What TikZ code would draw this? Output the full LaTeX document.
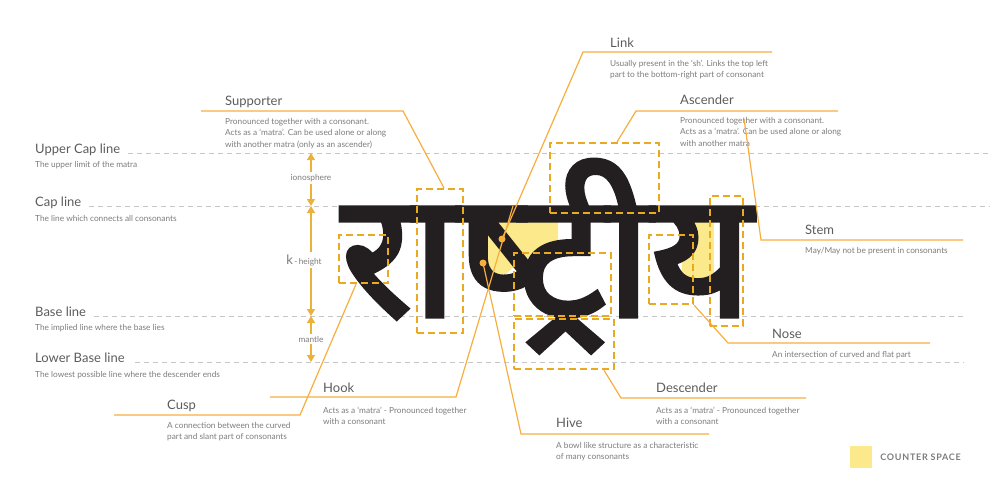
\documentclass[tikz,border=0pt]{standalone}
\usepackage{fontspec}
\setmainfont{Lato}
\newfontfamily\devfont[Script=Devanagari]{Noto Sans}
\usepackage{xcolor}
\usetikzlibrary{arrows.meta, positioning, calc, backgrounds}

\definecolor{inkgray}{HTML}{5C5C5C}
\definecolor{dscgray}{HTML}{7C7C7C}
\definecolor{guidegray}{HTML}{C6C6C6}
\definecolor{calloutor}{HTML}{F7AE3F}
\definecolor{boxor}{HTML}{E9AA22}
\definecolor{arrowor}{HTML}{EBB23A}
\definecolor{counteryl}{HTML}{FCE98B}
\definecolor{glyphblk}{HTML}{231F20}

% heavier strokes for the big word (fill + stroke text mode)
\newcommand{\heavy}[1]{\special{pdf:literal 2 Tr 5 w}#1\special{pdf:literal 0 Tr 1 w}}

\begin{document}
\begin{tikzpicture}[x=1pt, y=-1pt,
    % ── Text styles (dsc sits on the baseline of its LAST line) ───────
    ttl/.style={anchor=base west, inner sep=0pt,
        font=\fontsize{13}{15}\selectfont, text=inkgray},
    dsc/.style={anchor=base west, inner sep=0pt, align=left,
        font=\fontsize{8.3}{11.6}\selectfont, text=dscgray},
    % ── Guide lines: light grey, dashed ──────────────────────────────
    guide/.style={draw=guidegray, line width=0.8pt,
        dash pattern=on 5pt off 4pt},
    % ── Callout leader lines ─────────────────────────────────────────
    callout/.style={draw=calloutor, line width=1.2pt},
    dot/.style={circle, fill=calloutor, inner sep=0pt, minimum size=7pt},
    % ── Dashed part boxes ────────────────────────────────────────────
    dbox/.style={draw=boxor, line width=2.2pt, dash pattern=on 7pt off 4pt,
        inner sep=0pt, anchor=north west},
    % ── Height arrows ────────────────────────────────────────────────
    vdim/.style={draw=arrowor, line width=1.3pt,
        {Triangle[width=8pt,length=7pt]}-{Triangle[width=8pt,length=7pt]}},
    vlbl/.style={fill=white, inner sep=2pt, text=dscgray,
        font=\fontsize{8.3}{9}\selectfont}
]
\useasboundingbox (0,0) rectangle (1000,493);

% ══════════════════════════════════════════════════════════════════════
% GUIDE LINES AND HEIGHTS
% ══════════════════════════════════════════════════════════════════════

    \node[ttl] (ucapttl) at (35,153) {Upper Cap line};
    \node[dsc] (ucapdsc) at (35,167) {The upper limit of the matra};
    \node[ttl] (capttl)  at (35,206) {Cap line};
    \node[dsc] (capdsc)  at (35,221) {The line which connects all consonants};
    \node[ttl] (basettl) at (35,316) {Base line};
    \node[dsc] (basedsc) at (35,330) {The implied line where the base lies};
    \node[ttl] (lbasettl) at (35,362) {Lower Base line};
    \node[dsc] (lbasedsc) at (35,377) {The lowest possible line where the descender ends};

    \coordinate (gfar)  at (990,0);
    \coordinate (gnear) at (964,0);

    \draw[guide] ([xshift=8pt]ucapttl.base east) -- (ucapttl.base -| gfar);
    \draw[guide] ([xshift=8pt]capttl.base east) -- (capttl.base -| gfar);
    \draw[guide] ([xshift=8pt]basettl.base east) -- (basettl.base -| gnear);
    \draw[guide] ([xshift=10pt]lbasettl.base east) -- (lbasettl.base -| gnear);

    \coordinate (h1) at (311,153);
    \coordinate (h2) at (311,206);
    \coordinate (h3) at (311,316);
    \coordinate (h4) at (311,362);

    \draw[vdim] (h1) -- (h2);
    \draw[vdim] (h2) -- (h3);
    \draw[vdim] (h3) -- (h4);

    \node[vlbl] (iono) at (311,178) {ionosphere};
    \node[vlbl] (kht) at (304,260)
        {{\fontsize{13}{13}\selectfont k}\,-\,height};
    \node[vlbl] (mant) at (311,339) {mantle};

% ══════════════════════════════════════════════════════════════════════
% THE WORD
% ══════════════════════════════════════════════════════════════════════

    % counter spaces sit under the glyphs
    \fill[counteryl] (480,222) -- (558,222) -- (558,246) -- (522,260)
        -- (506,274) -- (480,274) -- cycle;
    \fill[counteryl] (682,222) rectangle (714,284);

    \node[anchor=base west, inner sep=0pt, text=glyphblk,
          font=\devfont\bfseries\fontsize{174}{174}\selectfont]
        (word) at (341,316) {\heavy{राष्^^^^200dट्रीय}};

% ══════════════════════════════════════════════════════════════════════
% PART BOXES
% ══════════════════════════════════════════════════════════════════════

    \node[dbox, minimum width=49pt,  minimum height=48pt]  (cuspbox) at (338,234) {};
    \node[dbox, minimum width=46pt,  minimum height=144pt] (suppbox) at (416,188) {};
    \node[dbox, minimum width=109pt, minimum height=70pt]  (ascbox)  at (549,142) {};
    \node[dbox, minimum width=97pt,  minimum height=63pt]  (hookbox) at (513,252) {};
    \node[dbox, minimum width=100pt, minimum height=50pt]  (descbox) at (513,318) {};
    \node[dbox, minimum width=44pt,  minimum height=69pt]  (nosebox) at (648,234) {};
    \node[dbox, minimum width=33pt,  minimum height=130pt] (stembox) at (709,195) {};

    \node[dot] (linkdot) at (502,239) {};
    \node[dot] (hivedot) at (483,263) {};

% ══════════════════════════════════════════════════════════════════════
% CALLOUTS
% ══════════════════════════════════════════════════════════════════════

    % ── Supporter ──
    \node[ttl] (suppttl) at (225,105) {Supporter};
    \node[dsc] (suppdsc) at (225,147.2)
        {Pronounced together with a consonant.\\
         Acts as a ‘matra’. Can be used alone or along\\
         with another matra (only as an ascender)};
    \coordinate (suppa) at (201,111);
    \coordinate (suppb) at (403,111);
    \draw[callout] (suppa) -- (suppb) -- ([xshift=28pt]suppbox.north west);

    % ── Link ──
    \node[ttl] (linkttl) at (610,47) {Link};
    \node[dsc] (linkdsc) at (610,77.6)
        {Usually present in the ‘sh’. Links the top left\\
         part to the bottom-right part of consonant};
    \coordinate (linka) at (583,52);
    \coordinate (linkb) at (772,52);
    \draw[callout] (linkdot.center) -- (linka) -- (linkb);

    % ── Ascender ──
    \node[ttl] (ascttl) at (680,104) {Ascender};
    \node[dsc] (ascdsc) at (680,146.2)
        {Pronounced together with a consonant.\\
         Acts as a ‘matra’. Can be used alone or along\\
         with another matra};
    \coordinate (asca) at (636,111);
    \coordinate (ascb) at (838,111);
    \draw[callout] ([xshift=68pt]ascbox.north west) -- (asca) -- (ascb);

    % ── Stem ──
    \node[ttl] (stemttl) at (805,234) {Stem};
    \node[dsc] (stemdsc) at (805,253) {May/May not be present in consonants};
    \coordinate (stema) at (761,240);
    \coordinate (stemb) at (963,240);
    \draw[callout] ([yshift=75pt]stembox.north east) -- (stema) -- (stemb);

    % ── Nose ──
    \node[ttl] (nosettl) at (772,338) {Nose};
    \node[dsc] (nosedsc) at (772,357) {An intersection of curved and flat part};
    \coordinate (nosea) at (728,343);
    \coordinate (noseb) at (930,343);
    \draw[callout] (nosebox.south east) -- (nosea) -- (noseb);

    % ── Descender ──
    \node[ttl] (descttl) at (656,392) {Descender};
    \node[dsc] (descdsc) at (656,424.6)
        {Acts as a ‘matra’ - Pronounced together\\with a consonant};
    \coordinate (desca) at (621,398);
    \coordinate (descb) at (806,398);
    \draw[callout] ([xshift=91pt]descbox.south west) -- (desca) -- (descb);

    % ── Hive ──
    \node[ttl] (hivettl) at (556,427) {Hive};
    \node[dsc] (hivedsc) at (556,459.6)
        {A bowl like structure as a characteristic\\of many consonants};
    \coordinate (hivea) at (521,434);
    \coordinate (hiveb) at (709,434);
    \draw[callout] (hivedot.center) -- (hivea) -- (hiveb);

    % ── Hook ──
    \node[ttl] (hookttl) at (323,392) {Hook};
    \node[dsc] (hookdsc) at (323,424.6)
        {Acts as a ‘matra’ - Pronounced together\\with a consonant};
    \coordinate (hooka) at (456,397);
    \coordinate (hookb) at (270,397);
    \draw[callout] ([yshift=46pt]hookbox.north west) -- (hooka) -- (hookb);

    % ── Cusp ──
    \node[ttl] (cuspttl) at (167,409) {Cusp};
    \node[dsc] (cuspdsc) at (167,439.6)
        {A connection between the curved\\part and slant part of consonants};
    \coordinate (cuspa) at (300,415);
    \coordinate (cuspb) at (114,415);
    \draw[callout] ([xshift=18pt]cuspbox.south west) -- (cuspa) -- (cuspb);

% ══════════════════════════════════════════════════════════════════════
% LEGEND
% ══════════════════════════════════════════════════════════════════════

    \node[fill=counteryl, minimum size=22pt, inner sep=0pt] (legsq) at (861,457) {};
    \node[right=8pt of legsq, inner sep=0pt, text=dscgray,
          font=\fontsize{9}{9}\selectfont\bfseries\addfontfeatures{LetterSpace=8}]
        (legtxt) {COUNTER SPACE};

\end{tikzpicture}
\end{document}
